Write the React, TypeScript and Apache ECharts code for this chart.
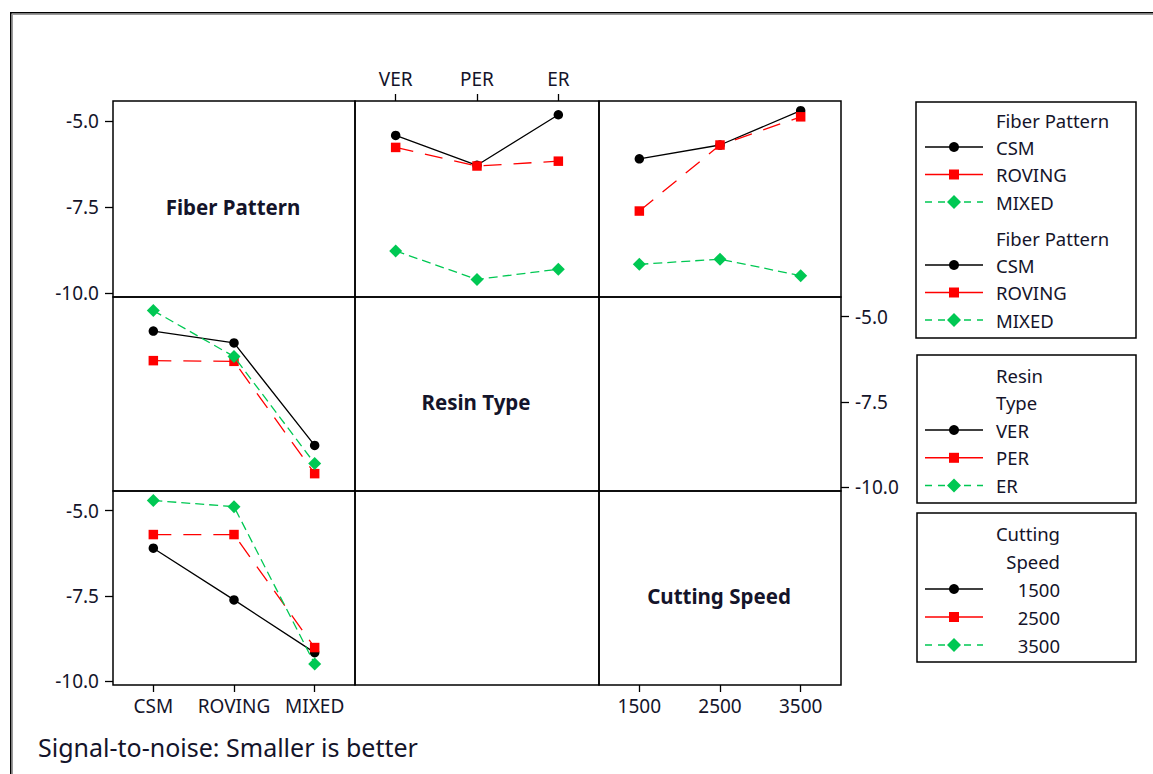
import React, { useEffect, useRef } from "react";
import * as echarts from "echarts";

// Factor levels
const fiberPatterns = ["CSM", "ROVING", "MIXED"];
const resinTypes = ["VER", "PER", "ER"];
const cuttingSpeeds = ["1500", "2500", "3500"];

// Mean S/N ratio of each fiber pattern at VER, PER, ER
const snCsmByResin = [-5.42, -6.29, -4.82];
const snRovingByResin = [-5.77, -6.31, -6.17];
const snMixedByResin = [-8.78, -9.61, -9.31];

// Mean S/N ratio of each fiber pattern at 1500, 2500, 3500
const snCsmBySpeed = [-6.1, -5.7, -4.7];
const snRovingBySpeed = [-7.62, -5.7, -4.88];
const snMixedBySpeed = [-9.17, -9.02, -9.5];

const yTickValues = [-10, -7.5, -5];
const factorNames = ["Fiber Pattern", "Resin Type", "Cutting Speed"];
const footnote = "Signal-to-noise: Smaller is better";

const snByResin = [snCsmByResin, snRovingByResin, snMixedByResin];
const snBySpeed = [snCsmBySpeed, snRovingBySpeed, snMixedBySpeed];

// Line / marker style for the 1st, 2nd and 3rd level of a trace factor
const levelStyles = [
  { color: "#000000", symbol: "circle", size: 9.5, dash: "solid" as any, legendDash: null as any },
  { color: "#ff0000", symbol: "rect", size: 9.5, dash: [18, 12] as any, legendDash: null as any },
  { color: "#00c853", symbol: "diamond", size: 13, dash: [9, 5] as any, legendDash: [7, 6] as any },
];

const FONT = "'Noto Sans', 'DejaVu Sans', sans-serif";
const TEXT = "#14142a";

// Panel matrix geometry (pixels)
const colX = [113, 355, 599, 841];
const rowY = [101, 297, 491, 685];
const Y_MIN = -10.12;
const Y_MAX = -4.42;

const columnCats = [fiberPatterns, resinTypes, cuttingSpeeds];

function buildOption() {
  const grids: any[] = [];
  const xAxes: any[] = [];
  const yAxes: any[] = [];
  for (let r = 0; r < 3; r++) {
    for (let c = 0; c < 3; c++) {
      const i = r * 3 + c;
      grids.push({
        left: colX[c],
        top: rowY[r],
        width: colX[c + 1] - colX[c],
        height: rowY[r + 1] - rowY[r],
        show: true,
        borderColor: "#000",
        borderWidth: 1.5,
        backgroundColor: "transparent",
        containLabel: false,
      });
      const showX = (r === 0 && c === 1) || (r === 2 && c === 0) || (r === 2 && c === 2);
      const showY = (c === 0 && r !== 1) || (r === 1 && c === 2);
      xAxes.push({
        gridIndex: i,
        type: "category",
        data: columnCats[c],
        boundaryGap: true,
        position: r === 0 ? "top" : "bottom",
        axisLine: { show: false },
        splitLine: { show: false },
        axisTick: { show: showX, alignWithLabel: true, length: 7, lineStyle: { color: "#000", width: 1.3 } },
        axisLabel: { show: showX, margin: r === 0 ? 13 : 11, fontSize: 19, color: TEXT, fontFamily: FONT, interval: 0 },
      });
      yAxes.push({
        gridIndex: i,
        type: "value",
        min: Y_MIN,
        max: Y_MAX,
        position: r === 1 && c === 2 ? "right" : "left",
        axisLine: { show: false },
        splitLine: { show: false },
        axisTick: { show: showY, length: 8, customValues: yTickValues, lineStyle: { color: "#000", width: 1.3 } },
        axisLabel: {
          show: showY,
          customValues: yTickValues,
          formatter: (v: number) => v.toFixed(1),
          margin: 14,
          fontSize: 19,
          color: TEXT,
          fontFamily: FONT,
        },
      });
    }
  }

  const series: any[] = [];
  const addLine = (gridIdx: number, level: number, name: string, data: number[]) => {
    const st = levelStyles[level];
    series.push({
      type: "line",
      name,
      xAxisIndex: gridIdx,
      yAxisIndex: gridIdx,
      data,
      symbol: st.symbol,
      symbolSize: st.size,
      showSymbol: true,
      itemStyle: { color: st.color },
      lineStyle: { color: st.color, width: 1.3, type: st.dash },
      z: 3 + level,
    });
  };

  // Row 1: fiber pattern traced across resin type, and across cutting speed
  fiberPatterns.forEach((f, k) => {
    addLine(1, k, f, snByResin[k]);
    addLine(2, k, f, snBySpeed[k]);
  });
  // Row 2: resin type traced across fiber pattern
  resinTypes.forEach((rt, k) => {
    addLine(3, k, rt, fiberPatterns.map((_, f) => snByResin[f][k]));
  });
  // Row 3: cutting speed traced across fiber pattern
  cuttingSpeeds.forEach((sp, k) => {
    addLine(6, k, sp, fiberPatterns.map((_, f) => snBySpeed[f][k]));
  });

  const graphics: any[] = [];

  // Outer frame
  graphics.push({ type: "line", shape: { x1: 10, y1: 12.75, x2: 1153, y2: 12.75 }, style: { stroke: "#000", lineWidth: 1.5 } });
  graphics.push({ type: "line", shape: { x1: 12, y1: 14.5, x2: 1153, y2: 14.5 }, style: { stroke: "#9a9a9a", lineWidth: 1 } });
  graphics.push({ type: "line", shape: { x1: 10.75, y1: 12, x2: 10.75, y2: 774 }, style: { stroke: "#000", lineWidth: 1.5 } });
  graphics.push({ type: "line", shape: { x1: 12.5, y1: 14, x2: 12.5, y2: 774 }, style: { stroke: "#9a9a9a", lineWidth: 1 } });

  // Factor names on the diagonal
  factorNames.forEach((nm, d) => {
    graphics.push({
      type: "text",
      x: (colX[d] + colX[d + 1]) / 2 - 1,
      y: (rowY[d] + rowY[d + 1]) / 2 + 8,
      style: { text: nm, fontSize: 20.5, fontWeight: "bold", fill: TEXT, fontFamily: FONT, align: "center", verticalAlign: "middle" },
    });
  });

  // Footnote
  graphics.push({
    type: "text",
    x: 38,
    y: 747,
    style: { text: footnote, fontSize: 25, fill: TEXT, fontFamily: FONT, align: "left", verticalAlign: "middle" },
  });

  // Legend boxes
  const addSample = (level: number, y: number) => {
    const st = levelStyles[level];
    const dash = st.legendDash;
    graphics.push({ type: "line", shape: { x1: 925, y1: y, x2: 983, y2: y }, style: { stroke: st.color, lineWidth: 1.5, lineDash: dash } });
    const mx = 954;
    if (st.symbol === "circle") {
      graphics.push({ type: "circle", shape: { cx: mx, cy: y, r: 5 }, style: { fill: st.color } });
    } else if (st.symbol === "rect") {
      graphics.push({ type: "rect", shape: { x: mx - 5, y: y - 5, width: 10, height: 10 }, style: { fill: st.color } });
    } else {
      graphics.push({ type: "polygon", shape: { points: [[mx, y - 7], [mx + 7, y], [mx, y + 7], [mx - 7, y]] }, style: { fill: st.color } });
    }
  };
  const addText = (text: string, x: number, y: number, align: string) => {
    graphics.push({ type: "text", x, y, style: { text, fontSize: 18.5, fill: TEXT, fontFamily: FONT, align, verticalAlign: "middle" } });
  };
  const addBox = (x1: number, y1: number, x2: number, y2: number) => {
    graphics.push({ type: "rect", shape: { x: x1, y: y1, width: x2 - x1, height: y2 - y1 }, style: { fill: "none", stroke: "#000", lineWidth: 1.5 } });
  };

  addBox(916, 102, 1136, 338);
  [120, 238].forEach((ty) => {
    addText(factorNames[0], 996, ty, "left");
    fiberPatterns.forEach((f, k) => {
      const yy = ty + 27 + k * 27.5;
      addSample(k, yy);
      addText(f, 996, yy, "left");
    });
  });

  addBox(917, 355, 1136, 503);
  addText("Resin", 996, 375, "left");
  addText("Type", 996, 402, "left");
  resinTypes.forEach((rt, k) => {
    const yy = 430 + k * 27.8;
    addSample(k, yy);
    addText(rt, 996, yy, "left");
  });

  addBox(917, 513, 1136, 662);
  addText("Cutting", 1060, 533, "right");
  addText("Speed", 1060, 561, "right");
  cuttingSpeeds.forEach((sp, k) => {
    const yy = 589 + k * 28;
    addSample(k, yy);
    addText(sp, 1060, yy, "right");
  });

  return {
    animation: false,
    backgroundColor: "#ffffff",
    grid: grids,
    xAxis: xAxes,
    yAxis: yAxes,
    series,
    graphic: graphics,
  };
}

export default function App() {
  const ref = useRef<HTMLDivElement>(null);
  useEffect(() => {
    if (!ref.current) return;
    const chart = echarts.init(ref.current, undefined, { renderer: "svg" });
    chart.setOption(buildOption() as any);
    return () => chart.dispose();
  }, []);
  return (
    <div
      ref={ref}
      style={{ position: "absolute", left: 0, top: 0, width: 1153, height: 774, background: "#fff" }}
    />
  );
}
